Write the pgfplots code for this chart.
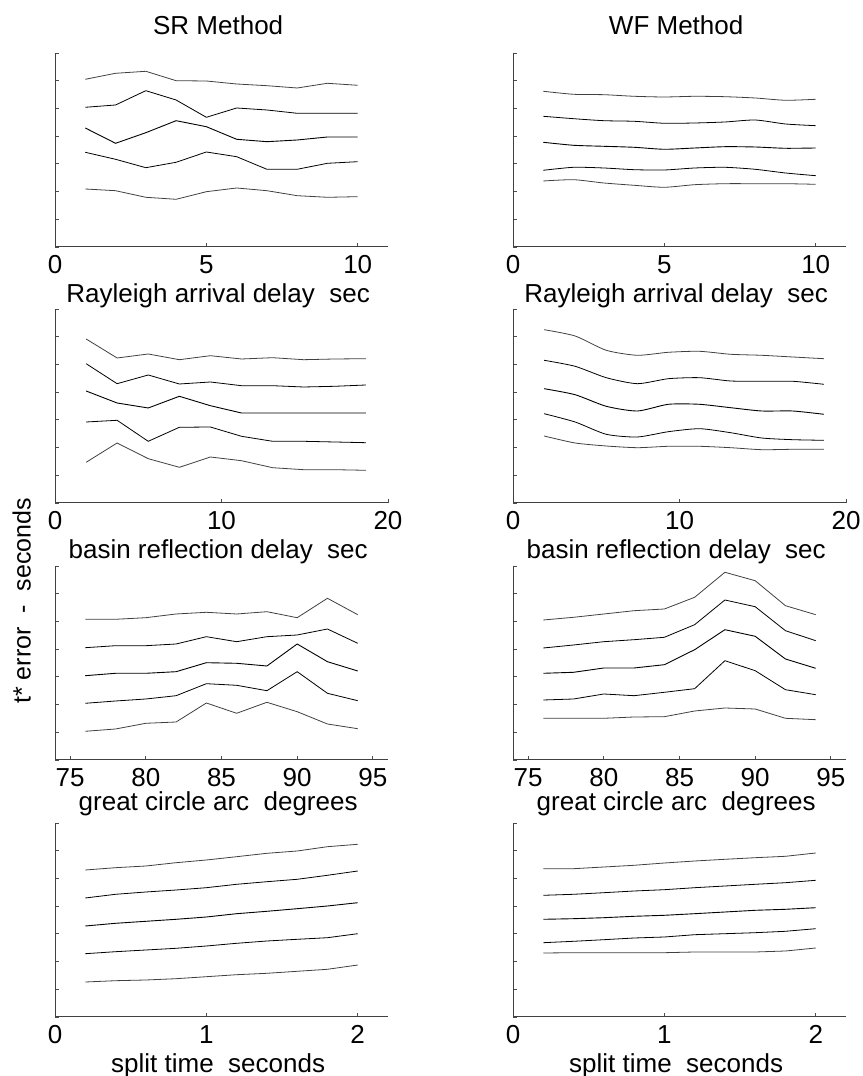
\documentclass[border=0pt]{standalone}
\usepackage{fontspec}
\setmainfont{Liberation Sans}
\usepackage{pgfplots}
\usepackage{pgfplotstable}
\pgfplotsset{compat=1.18}

% one table per panel: x, then the five traces from top to bottom
\pgfplotstableread{
x a b c d e
1 167.7 139.7 119.0 94.7 58.0
2 173.7 142.0 103.7 87.7 56.3
3 175.7 156.3 114.3 79.3 49.7
4 166.3 147.0 126.3 84.7 47.7
5 166.0 129.7 120.3 95.0 55.3
6 163.0 139.0 107.7 90.3 59.0
7 161.3 137.0 105.3 77.7 56.3
8 159.0 133.7 107.0 77.7 51.3
9 163.7 133.7 110.0 83.7 49.7
10 161.7 133.7 110.0 85.3 50.3
}\srRay
\pgfplotstableread{
x a b c d e
1 155.7 130.7 104.7 76.7 66.0
2 152.7 128.3 101.7 79.7 67.3
3 152.3 126.3 100.7 79.0 64.0
4 150.7 125.7 99.7 77.3 61.7
5 150.0 123.7 97.7 77.0 59.7
6 150.7 124.0 99.0 79.0 62.3
7 150.3 125.0 100.3 79.7 63.3
8 149.0 127.0 100.0 77.7 63.3
9 146.7 123.0 98.7 74.0 63.3
10 147.7 121.3 99.0 71.3 62.7
}\wfRay
\pgfplotstableread{
x a b c d e
1.87 164.0 139.3 112.0 81.0 40.7
3.73 145.0 119.3 100.0 82.7 60.0
5.60 149.0 128.0 95.0 61.7 44.3
7.47 143.3 119.0 106.7 75.7 35.7
9.33 147.3 121.0 97.3 76.0 46.0
11.20 144.0 117.3 90.0 66.7 42.3
13.07 145.3 117.3 90.0 61.7 35.3
14.93 143.3 116.0 90.0 61.7 33.3
16.80 144.0 116.7 90.0 61.0 33.3
18.67 144.3 118.0 90.0 60.3 32.7
}\srBasin
\pgfplotstableread{
x a b c d e
1.87 173.3 142.7 114.3 89.3 67.0
3.73 167.0 136.7 108.3 81.0 60.0
5.60 152.7 125.3 96.7 68.7 57.0
7.47 147.7 119.3 92.0 66.0 55.3
9.33 150.7 124.3 98.7 71.3 56.7
11.20 151.7 125.3 98.7 74.3 56.7
13.07 148.7 122.0 95.3 70.3 55.3
14.93 147.7 121.7 92.0 65.0 53.3
16.80 146.0 121.7 92.0 63.3 53.7
18.67 144.3 118.7 88.7 62.7 53.7
}\wfBasin
\pgfplotstableread{
x a b c d e
76 140.7 112.3 84.3 56.7 28.7
78 140.7 114.3 86.7 59.0 31.0
80 142.3 114.3 86.7 61.0 36.7
82 146.0 116.0 88.3 64.3 38.0
84 147.7 123.3 97.3 76.3 57.0
86 146.0 118.3 96.7 74.7 46.7
88 148.3 123.3 94.0 69.3 57.7
90 142.3 125.0 116.0 88.3 48.3
92 161.7 131.0 98.3 66.7 36.0
94 145.3 116.7 89.0 59.3 31.3
}\srArc
\pgfplotstableread{
x a b c d e
76 140.0 112.0 86.7 60.0 41.7
78 142.7 115.0 87.7 61.0 41.7
80 146.0 118.3 92.0 66.0 41.7
82 149.3 120.3 92.0 64.3 43.0
84 151.0 122.7 95.3 67.7 43.3
86 162.7 135.3 110.3 71.3 49.0
88 187.7 160.0 130.3 99.3 52.0
90 179.3 153.3 123.7 89.3 51.0
92 154.3 129.3 101.0 70.3 41.7
94 145.3 119.3 91.7 65.3 40.3
}\wfArc
\pgfplotstableread{
x a b c d e
0.2 147.0 119.0 91.0 63.3 35.0
0.4 149.3 122.7 93.7 65.3 36.3
0.6 151.0 125.0 95.7 67.0 37.0
0.8 154.3 127.0 97.7 68.7 38.3
1.0 157.0 129.3 100.0 71.0 40.3
1.2 160.3 132.7 103.3 73.7 42.3
1.4 163.7 135.3 105.7 76.0 43.7
1.6 166.0 137.7 108.3 77.7 45.7
1.8 170.3 141.7 111.0 79.3 47.7
2.0 172.7 146.0 114.3 83.3 52.0
}\srSplit
\pgfplotstableread{
x a b c d e
0.2 148.3 121.7 97.7 74.3 64.0
0.4 148.3 122.7 98.3 75.7 64.3
0.6 150.0 124.3 99.3 77.3 64.3
0.8 151.7 126.0 100.7 79.0 64.3
1.0 154.0 127.3 101.7 80.0 64.3
1.2 156.0 129.3 103.3 82.3 65.0
1.4 157.7 131.0 105.0 83.3 65.0
1.6 159.3 132.7 106.7 84.3 65.0
1.8 160.7 134.3 107.7 85.7 66.0
2.0 164.0 136.7 109.3 88.3 69.0
}\wfSplit

\pgfplotsset{
  panel/.style={
    scale only axis, width=166.5pt, height=97pt, anchor=south west,
    clip=false,
    axis x line=bottom, axis y line=left,
    axis line style={-, black!75, line width=0.5pt},
    ymin=0, ymax=194,
    ytick={0,27.7,...,194}, yticklabels={},
    tick align=inside, major tick length=2pt,
    tick style={black!70, line width=0.4pt},
    /pgf/number format/assume math mode=true,
    xticklabel style={font=\fontsize{13}{15}\selectfont, anchor=center, yshift=-8.7pt},
    xlabel style={font=\fontsize{13}{15}\selectfont, at={(axis description cs:0.49,-0.25)}, anchor=center},
    every axis title shift=0pt,
    title style={font=\fontsize{13}{15}\selectfont, at={(axis description cs:0.49,1.145)}, anchor=center},
    cycle list={{black!75, solid, line width=0.45pt, mark=none}},
  },
}

\newcommand{\traces}[1]{%
  \addplot table[x=x,y=a] {#1};
  \addplot table[x=x,y=b] {#1};
  \addplot table[x=x,y=c] {#1};
  \addplot table[x=x,y=d] {#1};
  \addplot table[x=x,y=e] {#1};
}
\newcommand{\smoothtraces}[1]{%
  \addplot+[smooth, tension=0.4] table[x=x,y=a] {#1};
  \addplot+[smooth, tension=0.4] table[x=x,y=b] {#1};
  \addplot+[smooth, tension=0.4] table[x=x,y=c] {#1};
  \addplot+[smooth, tension=0.4] table[x=x,y=d] {#1};
  \addplot+[smooth, tension=0.4] table[x=x,y=e] {#1};
}

\begin{document}
\begin{tikzpicture}
\path[use as bounding box] (0,0) rectangle (431pt,538pt);

% row 1: Rayleigh arrival delay
\begin{axis}[panel, at={(27.5pt,414.5pt)}, xmin=0, xmax=11, xtick={0,5,10},
  title={SR Method}, xlabel={Rayleigh arrival delay\ \ sec}]
  \traces{\srRay}
\end{axis}
\begin{axis}[panel, at={(256.5pt,414.5pt)}, xmin=0, xmax=11, xtick={0,5,10},
  title={WF Method}, xlabel={Rayleigh arrival delay\ \ sec}]
  \smoothtraces{\wfRay}
\end{axis}

% row 2: basin reflection delay
\begin{axis}[panel, at={(27.5pt,286.5pt)}, xmin=0, xmax=20, xtick={0,10,20},
  xlabel={basin reflection delay\ \ sec}]
  \traces{\srBasin}
\end{axis}
\begin{axis}[panel, at={(256.5pt,286.5pt)}, xmin=0, xmax=20, xtick={0,10,20},
  xlabel={basin reflection delay\ \ sec}]
  \smoothtraces{\wfBasin}
\end{axis}

% row 3: great circle arc
\begin{axis}[panel, at={(27.5pt,158pt)}, xmin=74, xmax=96, xtick={75,80,...,95},
  xlabel={great circle arc\ \ degrees},
  xlabel style={at={(axis description cs:0.49,-0.225)}},
  ylabel={t* error\ \ -\ \ seconds},
  ylabel style={font=\fontsize{12.5}{15}\selectfont, at={(axis description cs:-0.1,0.82)}, anchor=center}]
  \traces{\srArc}
\end{axis}
\begin{axis}[panel, at={(256.5pt,158pt)}, xmin=74, xmax=96, xtick={75,80,...,95},
  xlabel={great circle arc\ \ degrees},
  xlabel style={at={(axis description cs:0.49,-0.225)}}]
  \traces{\wfArc}
\end{axis}

% row 4: split time
\begin{axis}[panel, at={(27.5pt,29.5pt)}, xmin=0, xmax=2.2, xtick={0,1,2},
  xlabel={split time\ \ seconds}]
  \traces{\srSplit}
\end{axis}
\begin{axis}[panel, at={(256.5pt,29.5pt)}, xmin=0, xmax=2.2, xtick={0,1,2},
  xlabel={split time\ \ seconds}]
  \traces{\wfSplit}
\end{axis}
\end{tikzpicture}
\end{document}
